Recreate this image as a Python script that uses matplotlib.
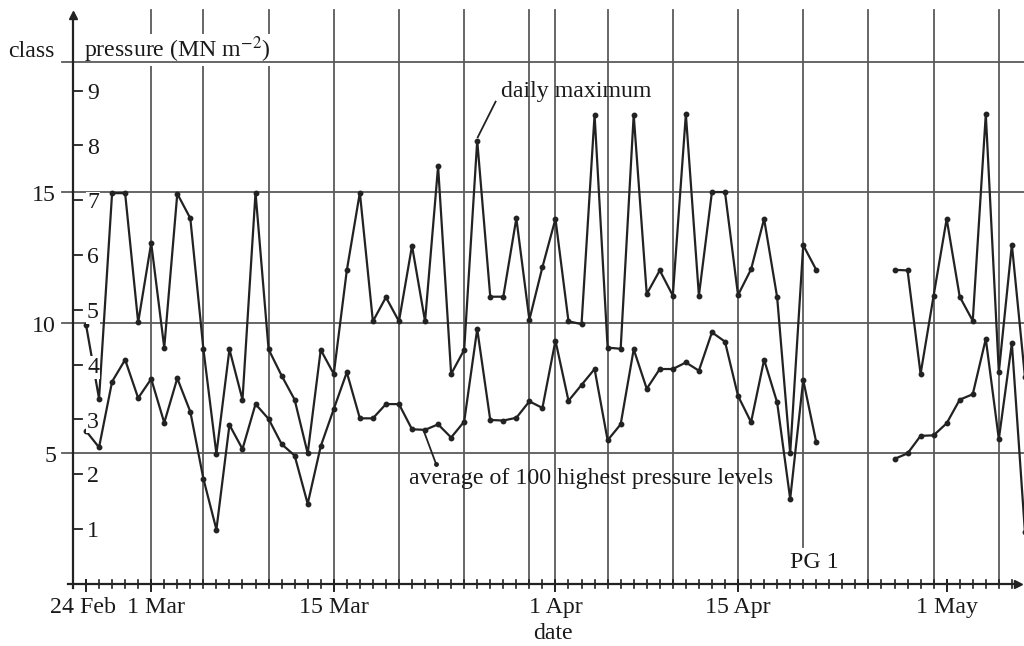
import numpy as np
import pandas as pd
import matplotlib
matplotlib.use("Agg")
import matplotlib.pyplot as plt

plt.rcParams['font.family'] = ['Liberation Serif', 'DejaVu Serif']
plt.rcParams['mathtext.fontset'] = 'stix'

# ---- data (pressure, MN m^-2) ----
dates = pd.date_range('1981-02-24', '1981-05-07', freq='D')
daily_max = [4.73, 3.38, 7.13, 7.13, 4.77,
             6.22, 4.31, 7.12, 6.67, 4.29, 2.37, 4.28, 3.36, 7.14, 4.28,
             3.80, 3.36, 2.38, 4.27, 3.83, 5.72, 7.14, 4.79, 5.23, 4.79,
             6.17, 4.79, 7.62, 3.83, 4.27, 8.09, 5.24, 5.24, 6.67, 4.82, 5.78,
             6.66, 4.79, 4.74, 8.56, 4.31, 4.29, 8.56, 5.29, 5.72, 5.26,
             8.57, 5.26, 7.15, 7.15, 5.27, 5.74, 6.66, 5.23, 2.38, 6.18,
             5.73, np.nan, np.nan, np.nan, np.nan, np.nan, 5.73, 5.72, 3.83, 5.26,
             6.66, 5.24, 4.80, 8.57, 3.86, 6.19, 3.78]
avg_100 = [2.79, 2.49, 3.69, 4.09, 3.39,
           3.74, 2.94, 3.75, 3.14, 1.92, 0.99, 2.90, 2.46, 3.28, 3.01,
           2.55, 2.34, 1.46, 2.51, 3.19, 3.86, 3.02, 3.02, 3.28, 3.28,
           2.82, 2.81, 2.91, 2.67, 2.96, 4.65, 2.99, 2.98, 3.03, 3.33, 3.21,
           4.44, 3.34, 3.63, 3.92, 2.62, 2.91, 4.28, 3.56, 3.92, 3.92,
           4.04, 3.89, 4.59, 4.42, 3.43, 2.95, 4.09, 3.31, 1.55, 3.72,
           2.58, np.nan, np.nan, np.nan, np.nan, np.nan, 2.28, 2.38, 2.70, 2.71,
           2.93, 3.36, 3.46, 4.47, 2.64, 4.39, 0.95]
pressure_ticks = [1, 2, 3, 4, 5, 6, 7, 8, 9]
class_ticks = [5, 10, 15]
class_lines = [5, 10, 15, 20]
class_per_pressure = 2.1
grid_dates = ['1981-03-01', '1981-03-05', '1981-03-10', '1981-03-15', '1981-03-20',
              '1981-03-25', '1981-03-30', '1981-04-01', '1981-04-05', '1981-04-10',
              '1981-04-15', '1981-04-20', '1981-04-25', '1981-04-30', '1981-05-05']
label_dates = ['1981-02-24', '1981-03-01', '1981-03-15', '1981-04-01', '1981-04-15', '1981-05-01']
label_texts = ['24 Feb', '1 Mar', '15 Mar', '1 Apr', '15 Apr', '1 May']

start = pd.Timestamp('1981-02-24')
def day(s):
    return (pd.Timestamp(s) - start).days

days = np.array([(d - start).days for d in dates])

FS = 17.2
TXT = '#1a1a1a'

fig = plt.figure(figsize=(10.24, 6.46), dpi=100)
ax = fig.add_axes([0, 0, 1, 1])
ax.set_xlim(-6.595, 71.93)
ax.set_ylim(-1.135, 10.655)
ax.axis('off')

line_c = '#222222'
grid_c = '#5a5a5a'

# horizontal class gridlines (top one drawn above the header text box)
for c in class_lines:
    z = 5 if c == class_lines[-1] else 1
    ax.plot([-1.84, 72], [c / class_per_pressure] * 2, color=grid_c, lw=1.3, zorder=z)
# vertical date gridlines
for g in grid_dates:
    top = 10.47
    bottom = 0.67 if g == '1981-04-20' else 0
    ax.plot([day(g)] * 2, [bottom, top], color=grid_c, lw=1.3, zorder=1)

# axes
ax.plot([-0.97, -0.97], [-0.07, 10.35], color=line_c, lw=1.6, zorder=6)
ax.plot([-0.97], [10.38], marker='^', ms=6, color=line_c, zorder=6)
ax.plot([-1.38, 71.3], [0, 0], color=line_c, lw=1.6, zorder=3)
ax.plot([71.5], [0], marker='>', ms=6, color=line_c, zorder=3)
for d in range(0, 72):
    ax.plot([d, d], [-0.075, 0.075], color=line_c, lw=1.2, zorder=3)
for d in label_dates:
    ax.plot([day(d)] * 2, [-0.13, 0.075], color=line_c, lw=1.4, zorder=3)

# pressure ticks + labels
for p in pressure_ticks:
    ax.plot([-0.92, -0.31], [p, p], color=line_c, lw=1.3, zorder=3)
    ax.text(0.08, p - 0.15, str(p), fontsize=FS, ha='left', va='baseline', color=TXT,
            zorder=4, bbox=dict(facecolor='white', edgecolor='none', pad=0.5))
# class labels
for c in class_ticks:
    ax.text(-2.3, c / class_per_pressure - 0.16, str(c), fontsize=FS, ha='right',
            va='baseline', color=TXT)

ax.text(-5.98, 9.61, 'class', fontsize=FS, ha='left', va='baseline', color=TXT)
ax.text(-0.15, 9.61, r'pressure (MN m$^{-2}$)', fontsize=FS, ha='left', va='baseline',
        color=TXT, zorder=4, bbox=dict(facecolor='white', edgecolor='none', pad=0.3))

# date labels
for d, t in zip(label_dates, label_texts):
    off = 0.4 if t == '1 Mar' else (-0.2 if t == '24 Feb' else 0)
    ax.text(day(d) + off, -0.54, t, fontsize=FS, ha='center', va='baseline', color=TXT)
ax.text(35.8, -1.0, 'date', fontsize=FS, ha='center', va='baseline', color=TXT)

# data series
ax.plot(days, daily_max, color=line_c, lw=1.6, marker='o', ms=3.2, zorder=2)
ax.plot(days, avg_100, color=line_c, lw=1.6, marker='o', ms=3.2, zorder=2)

# annotations
ax.text(31.83, 8.88, 'daily maximum', fontsize=FS, ha='left', va='baseline', color=TXT)
ax.plot([31.41, 30.04], [8.80, 8.15], color=line_c, lw=1.3)
ax.text(24.79, 1.82, 'average of 100 highest pressure levels', fontsize=FS, ha='left',
        va='baseline', color=TXT)
ax.plot([25.87, 26.84], [2.81, 2.19], color=line_c, lw=1.3, marker='o', ms=2.5, markevery=[1])
ax.text(53.98, 0.28, 'PG 1', fontsize=FS, ha='left', va='baseline', color=TXT)

fig.savefig('out.png', dpi=100)
